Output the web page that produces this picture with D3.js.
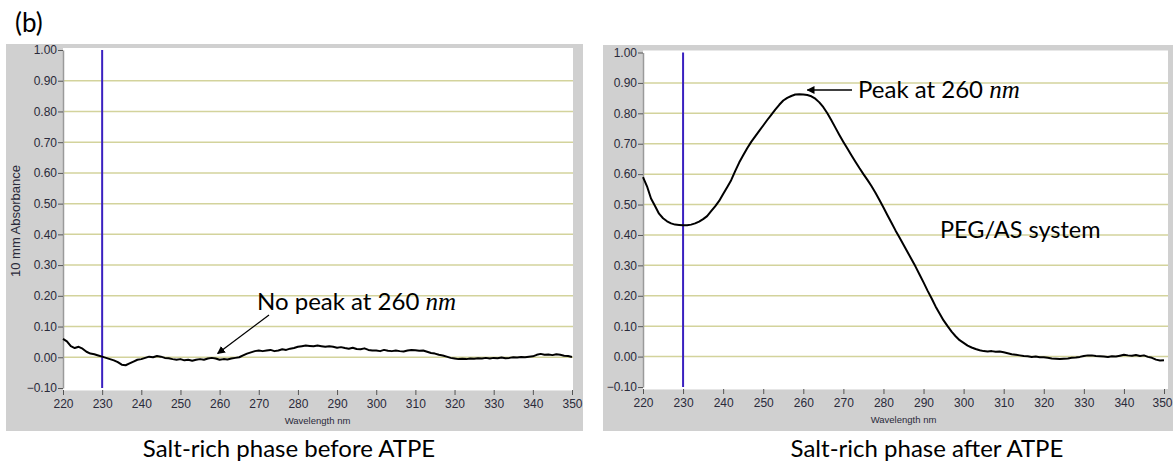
<!DOCTYPE html>
<html>
<head>
<meta charset="utf-8">
<script src="https://cdn.jsdelivr.net/npm/d3@7"></script>
<style>
  html, body { margin: 0; padding: 0; background: #fff; }
  svg { display: block; }
</style>
</head>
<body>
<svg id="chart" width="1173" height="465"></svg>
<script>
// Wavelength axis ticks (nm) and absorbance ticks
const wavelengthTicks = [220, 230, 240, 250, 260, 270, 280, 290, 300, 310, 320, 330, 340, 350];
const absorbanceTicks = [-0.10, 0.00, 0.10, 0.20, 0.30, 0.40, 0.50, 0.60, 0.70, 0.80, 0.90, 1.00];
const gridTicks = [0.00, 0.10, 0.20, 0.30, 0.40, 0.50, 0.60, 0.70, 0.80, 0.90];
const markerWavelength = 230;

// Spectra sampled every 1 nm from 220 to 350 nm
const wavelengths = [
  220,221,222,223,224,225,226,227,228,229,230,231,232,233,234,235,236,237,238,239,
  240,241,242,243,244,245,246,247,248,249,250,251,252,253,254,255,256,257,258,259,
  260,261,262,263,264,265,266,267,268,269,270,271,272,273,274,275,276,277,278,279,
  280,281,282,283,284,285,286,287,288,289,290,291,292,293,294,295,296,297,298,299,
  300,301,302,303,304,305,306,307,308,309,310,311,312,313,314,315,316,317,318,319,
  320,321,322,323,324,325,326,327,328,329,330,331,332,333,334,335,336,337,338,339,
  340,341,342,343,344,345,346,347,348,349,350
];

// Salt-rich phase before ATPE
const beforeAbsorbance = [
  0.060,0.052,0.036,0.030,0.034,0.028,0.018,0.012,0.010,0.006,
  0.002,-0.002,-0.006,-0.010,-0.016,-0.024,-0.026,-0.020,-0.014,-0.008,
  -0.006,-0.002,0.002,0.000,0.004,0.002,-0.002,-0.003,-0.006,-0.008,
  -0.006,-0.010,-0.008,-0.011,-0.008,-0.006,-0.008,-0.004,-0.002,-0.004,
  -0.008,-0.006,-0.007,-0.004,-0.002,0.000,0.006,0.012,0.016,0.020,
  0.022,0.020,0.022,0.024,0.020,0.022,0.026,0.024,0.028,0.030,
  0.034,0.036,0.038,0.037,0.036,0.038,0.036,0.034,0.036,0.034,
  0.031,0.033,0.030,0.028,0.031,0.027,0.026,0.029,0.024,0.022,
  0.022,0.020,0.024,0.021,0.020,0.022,0.020,0.019,0.022,0.024,
  0.023,0.021,0.022,0.018,0.014,0.012,0.008,0.006,0.002,-0.002,
  -0.004,-0.006,-0.005,-0.006,-0.004,-0.005,-0.003,-0.004,-0.002,-0.004,
  -0.002,-0.003,-0.001,-0.003,-0.002,0.000,-0.001,0.001,0.000,0.002,
  0.003,0.008,0.011,0.008,0.009,0.007,0.010,0.008,0.005,0.004,
  0.001
];

// Salt-rich phase after ATPE (PEG/AS system)
const afterAbsorbance = [
  0.590,0.560,0.520,0.495,0.470,0.455,0.445,0.438,0.434,0.433,
  0.432,0.432,0.434,0.438,0.444,0.452,0.462,0.478,0.494,0.512,
  0.535,0.557,0.580,0.610,0.638,0.662,0.685,0.706,0.724,0.742,
  0.760,0.778,0.795,0.812,0.828,0.842,0.851,0.857,0.862,0.863,
  0.862,0.860,0.856,0.848,0.836,0.820,0.800,0.777,0.753,0.729,
  0.706,0.684,0.662,0.641,0.620,0.600,0.581,0.561,0.539,0.515,
  0.490,0.465,0.440,0.415,0.392,0.368,0.344,0.320,0.296,0.270,
  0.244,0.217,0.192,0.165,0.142,0.119,0.100,0.082,0.067,0.054,
  0.045,0.036,0.030,0.025,0.021,0.018,0.017,0.018,0.016,0.017,
  0.014,0.011,0.008,0.006,0.004,0.002,0.001,-0.001,0.000,-0.002,
  -0.002,-0.004,-0.006,-0.007,-0.008,-0.007,-0.006,-0.004,-0.003,-0.001,
  0.002,0.004,0.004,0.002,0.001,0.000,-0.001,0.001,0.000,0.003,
  0.006,0.004,0.003,0.005,0.002,0.004,-0.001,-0.004,-0.010,-0.013,
  -0.012
];

const svg = d3.select("#chart");
const labelFont = "Lato, 'Open Sans', sans-serif";
const axisFont = "'Liberation Sans', Arial, sans-serif";

// Arrowhead marker for annotations
svg.append("defs").append("marker")
  .attr("id", "arrowhead")
  .attr("viewBox", "0 0 10 10")
  .attr("refX", 9).attr("refY", 5)
  .attr("markerWidth", 8).attr("markerHeight", 8)
  .attr("markerUnits", "userSpaceOnUse")
  .attr("orient", "auto")
  .append("path")
  .attr("d", "M0,0 L10,5 L0,10 z")
  .attr("fill", "#000");

function drawPanel(opts) {
  const g = svg.append("g");

  // grey instrument frame
  g.append("rect")
    .attr("x", opts.frame[0]).attr("y", opts.frame[1])
    .attr("width", opts.frame[2]).attr("height", opts.frame[3])
    .attr("fill", "#d0d0d0");

  const x = d3.scaleLinear().domain([220, 350]).range([opts.plot.left, opts.plot.right]);
  const y = d3.scaleLinear().domain([-0.10, 1.00]).range([opts.plot.bottom, opts.plot.top]);

  // white plotting area
  g.append("rect")
    .attr("x", opts.plot.left).attr("y", opts.plot.top - 2)
    .attr("width", opts.plot.whiteRight - opts.plot.left)
    .attr("height", opts.plot.bottom + 2 - (opts.plot.top - 2))
    .attr("fill", "#fff");

  // horizontal grid lines
  g.append("g").selectAll("line")
    .data(gridTicks)
    .join("line")
    .attr("x1", opts.plot.left).attr("x2", opts.plot.whiteRight)
    .attr("y1", d => y(d)).attr("y2", d => y(d))
    .attr("stroke", "#d3d39c").attr("stroke-width", 1.5);

  // y axis
  const yAxis = g.append("g")
    .attr("transform", `translate(${opts.plot.left},0)`)
    .call(d3.axisLeft(y).tickValues(absorbanceTicks).tickFormat(d3.format(".2f")).tickSize(5).tickSizeOuter(0));
  yAxis.select(".domain").attr("stroke", "#9a9a9a").attr("stroke-width", 1.5);
  yAxis.selectAll(".tick line").attr("stroke", "#555");
  yAxis.selectAll(".tick text")
    .attr("x", -6)
    .attr("fill", "#2a2a3a")
    .style("font-family", axisFont).style("font-size", "12px");

  // x axis
  const xAxis = g.append("g")
    .attr("transform", `translate(0,${opts.plot.bottom + 2})`)
    .call(d3.axisBottom(x).tickValues(wavelengthTicks).tickFormat(d3.format("d")).tickSize(5).tickSizeOuter(0));
  xAxis.select(".domain").attr("stroke", "#e6e6e6").attr("stroke-width", 1);
  xAxis.selectAll(".tick line").attr("stroke", "#555");
  xAxis.selectAll(".tick text")
    .attr("y", 9)
    .attr("dx", (d, i, n) => (opts.lastLabelShift && i === n.length - 1) ? opts.lastLabelShift : 0)
    .attr("fill", "#2a2a3a")
    .style("font-family", axisFont).style("font-size", "12px");

  g.append("text")
    .attr("x", (opts.plot.left + opts.plot.right) / 2)
    .attr("y", opts.plot.bottom + 36)
    .attr("text-anchor", "middle")
    .attr("fill", "#2a2a3a")
    .style("font-family", axisFont).style("font-size", "9.5px")
    .text("Wavelength nm");

  if (opts.yTitle) {
    g.append("text")
      .attr("transform", `translate(${opts.frame[0] + 14},${(opts.plot.top + opts.plot.bottom) / 2 + 2}) rotate(-90)`)
      .attr("text-anchor", "middle")
      .attr("fill", "#2a2a3a")
      .style("font-family", axisFont).style("font-size", "13px")
      .text(opts.yTitle);
  }

  // cursor line at the marker wavelength
  g.append("line")
    .attr("x1", x(markerWavelength)).attr("x2", x(markerWavelength))
    .attr("y1", y(1.00)).attr("y2", y(-0.10))
    .attr("stroke", "#3a20c0").attr("stroke-width", 2);

  // spectrum
  const line = d3.line()
    .x((d, i) => x(wavelengths[i]))
    .y(d => y(d));
  g.append("path")
    .datum(opts.values)
    .attr("d", line)
    .attr("fill", "none")
    .attr("stroke", "#000")
    .attr("stroke-width", 2)
    .attr("stroke-linejoin", "round");

  // caption below the panel
  g.append("text")
    .attr("x", opts.captionX)
    .attr("y", 457)
    .attr("text-anchor", "middle")
    .attr("fill", "#000")
    .style("font-family", labelFont).style("font-size", "24px")
    .text(opts.caption);

  return { x, y, g };
}

function annotation(g, txt, tx, ty) {
  const t = g.append("text")
    .attr("x", tx).attr("y", ty)
    .attr("fill", "#000")
    .style("font-family", labelFont).style("font-size", "24px");
  t.append("tspan").text(txt + " ");
  t.append("tspan")
    .style("font-family", "'Liberation Serif', 'DejaVu Serif', serif")
    .style("font-style", "italic")
    .style("font-size", "25px")
    .text("nm");
}

// (b) panel label
svg.append("text")
  .attr("x", 15).attr("y", 32)
  .style("font-family", labelFont).style("font-size", "26px")
  .text("(b)");

// left: before extraction
const left = drawPanel({
  frame: [6, 44, 577, 387],
  plot: { left: 63, right: 572, whiteRight: 573, top: 50, bottom: 388 },
  values: beforeAbsorbance,
  yTitle: "10 mm Absorbance",
  caption: "Salt-rich phase before ATPE",
  captionX: 289
});
annotation(left.g, "No peak at 260", 257, 310);
left.g.append("line")
  .attr("x1", 269).attr("y1", 315)
  .attr("x2", left.x(259.5)).attr("y2", left.y(-0.004) - 5)
  .attr("stroke", "#000").attr("stroke-width", 1.3)
  .attr("marker-end", "url(#arrowhead)");

// right: after extraction
const right = drawPanel({
  frame: [603, 45, 570, 386],
  plot: { left: 643, right: 1164, whiteRight: 1168, top: 52.5, bottom: 387 },
  values: afterAbsorbance,
  yTitle: null,
  caption: "Salt-rich phase after ATPE",
  captionX: 927,
  lastLabelShift: -2
});
annotation(right.g, "Peak at 260", 858, 98);
right.g.append("line")
  .attr("x1", 852).attr("y1", 90)
  .attr("x2", right.x(261)).attr("y2", 90)
  .attr("stroke", "#000").attr("stroke-width", 1.3)
  .attr("marker-end", "url(#arrowhead)");
right.g.append("text")
  .attr("x", 940).attr("y", 238)
  .attr("fill", "#000")
  .style("font-family", labelFont).style("font-size", "23.5px")
  .text("PEG/AS system");
</script>
</body>
</html>
